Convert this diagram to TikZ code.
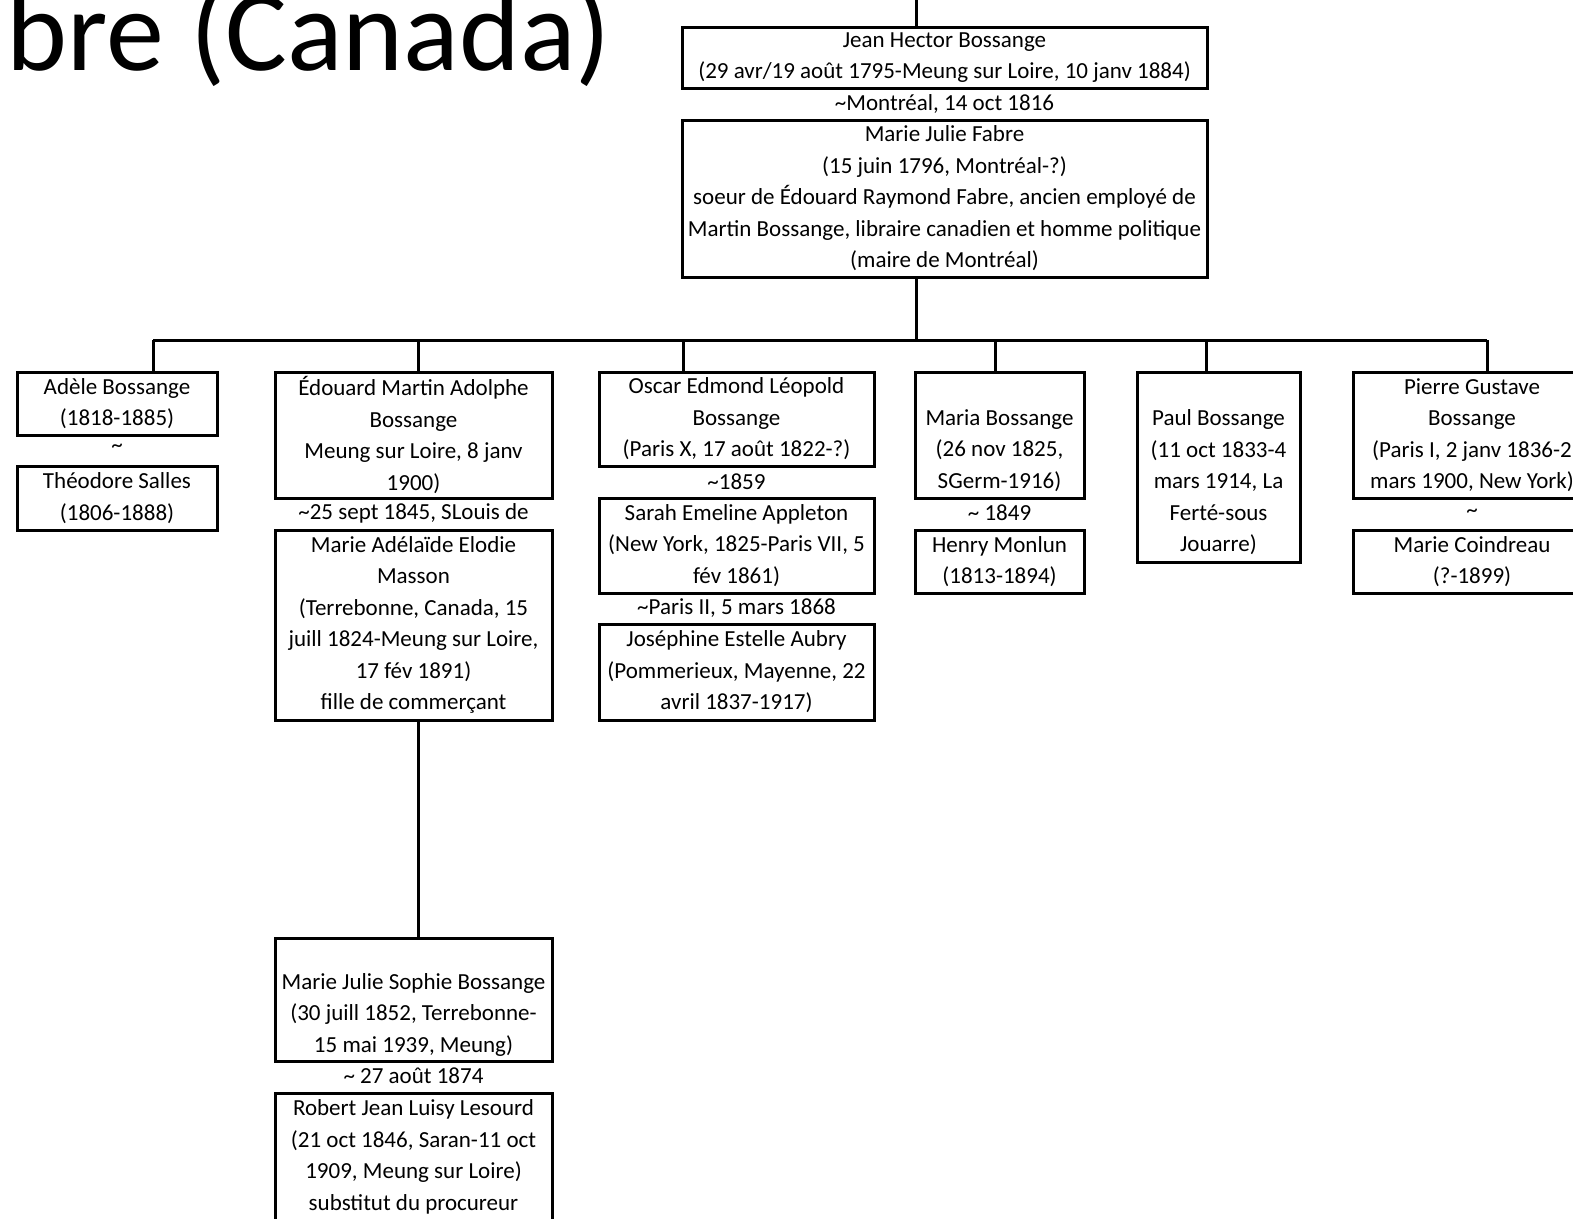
\documentclass[tikz,border=0pt]{standalone}
\usepackage{fontspec}
\setmainfont{Carlito}
\begin{document}
\begin{tikzpicture}[x=1pt,y=-1pt,line width=3pt,
    person/.style={draw,inner sep=0pt,align=center,font=\fontsize{23}{31.5}\selectfont},
    wed/.style={inner sep=0pt,font=\fontsize{23}{31.5}\selectfont}]
\def\busy{340}
\fill[white] (0,0) rectangle (1573,1218);
\useasboundingbox (0,0) rectangle (1573,1218);
% titre (coupe a gauche)
\node[anchor=base west,inner sep=0pt,font=\fontsize{116}{120}\selectfont] (title) at (5,70) {bre (Canada)};
% parents
\node[person,minimum width=525pt,minimum height=61pt] (hector) at (944.5,57.5)
    {Jean Hector Bossange\\(29 avr/19 août 1795-Meung sur Loire, 10 janv 1884)};
\node[wed] (m0) at (944.5,104) {\textasciitilde Montréal, 14 oct 1816};
\node[person,minimum width=525pt,minimum height=157pt] (fabre) at (944.5,198.5)
    {Marie Julie Fabre\\(15 juin 1796, Montréal-?)\\soeur de Édouard Raymond Fabre, ancien employé de\\
     Martin Bossange, libraire canadien et homme politique\\(maire de Montréal)};
% enfants
\node[person,minimum width=200pt,minimum height=63pt] (adele) at (117,403.5)
    {Adèle Bossange\\(1818-1885)};
\node[wed] (m1) at (117,448) {\textasciitilde};
\node[person,minimum width=200pt,minimum height=64pt] (salles) at (117,498)
    {Théodore Salles\\(1806-1888)};
\node[person,minimum width=277pt,minimum height=126pt] (edouard) at (413.5,435)
    {Édouard Martin Adolphe\\Bossange\\Meung sur Loire, 8 janv\\1900)};
\node[wed] (m2) at (413.5,513) {\textasciitilde 25 sept 1845, SLouis de};
\node[person,minimum width=277pt,minimum height=190pt] (masson) at (413.5,625)
    {Marie Adélaïde Elodie\\Masson\\(Terrebonne, Canada, 15\\juill 1824-Meung sur Loire,\\17 fév 1891)\\fille de commerçant};
\node[person,minimum width=275pt,minimum height=94pt] (oscar) at (736.5,419)
    {Oscar Edmond Léopold\\Bossange\\(Paris X, 17 août 1822-?)};
\node[wed] (m3) at (736.5,482) {\textasciitilde 1859};
\node[person,minimum width=275pt,minimum height=95pt] (appleton) at (736.5,545.5)
    {Sarah Emeline Appleton\\(New York, 1825-Paris VII, 5\\fév 1861)};
\node[wed] (m4) at (736.5,608) {\textasciitilde Paris II, 5 mars 1868};
\node[person,minimum width=275pt,minimum height=96pt] (aubry) at (736.5,672)
    {Joséphine Estelle Aubry\\(Pommerieux, Mayenne, 22\\avril 1837-1917)};
\node[person,minimum width=169pt,minimum height=126pt] (maria) at (999.5,435)
    {\vphantom{M}\\Maria Bossange\\(26 nov 1825,\\SGerm-1916)};
\node[wed] (m5) at (999.5,513) {\textasciitilde\ 1849};
\node[person,minimum width=169pt,minimum height=63pt] (monlun) at (999.5,561.5)
    {Henry Monlun\\(1813-1894)};
\node[person,minimum width=163pt,minimum height=190pt] (paul) at (1218.5,467)
    {\vphantom{M}\\Paul Bossange\\(11 oct 1833-4\\mars 1914, La\\Ferté-sous\\Jouarre)};
\node[person,minimum width=238pt,minimum height=126pt] (pierre) at (1472,435)
    {Pierre Gustave\\Bossange\\(Paris I, 2 janv 1836-2\\mars 1900, New York)};
\node[wed] (m6) at (1472,513) {\textasciitilde};
\node[person,minimum width=238pt,minimum height=63pt] (coindreau) at (1472,561.5)
    {Marie Coindreau\\(?-1899)};
% petits-enfants
\node[person,minimum width=277pt,minimum height=123pt] (sophie) at (413.5,999.5)
    {\vphantom{M}\\Marie Julie Sophie Bossange\\(30 juill 1852, Terrebonne-\\15 mai 1939, Meung)};
\node[wed] (m7) at (413.5,1076) {\textasciitilde\ 27 août 1874};
\node[person,minimum width=277pt,minimum height=128pt] (lesourd) at (413.5,1157)
    {Robert Jean Luisy Lesourd\\(21 oct 1846, Saran-11 oct\\1909, Meung sur Loire)\\substitut du procureur};
% liens
\coordinate (root) at (916,0);
\coordinate (stem) at (916,\busy);
\draw (root) -- (root |- hector.north);
\draw (fabre.south -| stem) -- (stem);
\foreach \n/\x in {adele/153,edouard/418,oscar/683,maria/995,paul/1206,pierre/1487}{
    \coordinate (j\n) at (\x,\busy);
    \draw (j\n) -- (j\n |- \n.north);
}
\draw (jadele) -- (jpierre);
\draw (masson.south -| jedouard) -- (sophie.north -| jedouard);
\end{tikzpicture}
\end{document}
